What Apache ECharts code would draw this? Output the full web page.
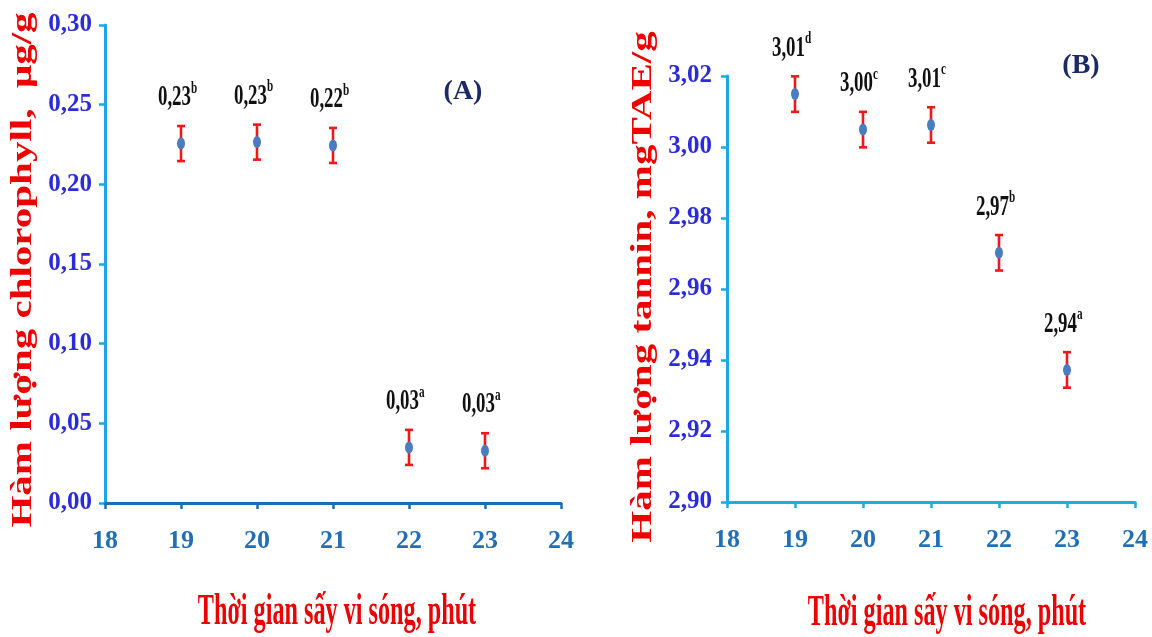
<!DOCTYPE html>
<html>
<head>
<meta charset="utf-8">
<script src="https://cdn.jsdelivr.net/npm/echarts@6/dist/echarts.min.js"></script>
<style>
  html, body { margin: 0; padding: 0; background: #ffffff; }
  #chart { width: 1152px; height: 637px; }
</style>
</head>
<body>
<div id="chart"></div>
<script>
// Drying time (minutes)
const minutes = [19, 20, 21, 22, 23];

// Panel A: chlorophyll content (µg/g), standard deviation, significance group
const chlorophyll = [0.2256, 0.2265, 0.2244, 0.0349, 0.0328];
const chlorophyllSd = [0.011, 0.011, 0.011, 0.011, 0.011];
const chlorophyllGroup = ['b', 'b', 'b', 'a', 'a'];

// Panel B: tannin content (mgTAE/g), standard deviation, significance group
const tannin = [3.0149, 3.0049, 3.0062, 2.9702, 2.9372];
const tanninSd = [0.005, 0.005, 0.005, 0.005, 0.005];
const tanninGroup = ['d', 'c', 'c', 'b', 'a'];

// Axis ranges
const xRange = { min: 18, max: 24, interval: 1 };
const chlRange = { min: 0, max: 0.30, interval: 0.05 };
const tanRange = { min: 2.90, max: 3.02, interval: 0.02 };

// Texts
const chlName = 'Hàm lượng chlorophyll,  μg/g';
const tanName = 'Hàm lượng tannin, mgTAE/g';
const timeName = 'Thời gian sấy vi sóng, phút';
const panelTitles = ['(A)', '(B)'];

const SERIF = '"Liberation Serif", "Times New Roman", serif';
const comma = v => v.toFixed(2).replace('.', ',');

function pointsOf(values, sd) {
  return minutes.map((m, i) => [m, values[i], sd[i]]);
}

// Error bar + value label drawn from each point's own value
function makeErrorRenderer(groups) {
  return function (params, api) {
    const x = api.value(0), y = api.value(1), sd = api.value(2);
    const top = api.coord([x, y + sd]);
    const bot = api.coord([x, y - sd]);
    const mid = api.coord([x, y]);
    const cap = 4;
    const red = '#f01818';
    const lineStyle = { stroke: red, lineWidth: 2.6 };
    return {
      type: 'group',
      children: [
        { type: 'line', shape: { x1: top[0], y1: top[1], x2: bot[0], y2: bot[1] }, style: lineStyle },
        { type: 'line', shape: { x1: top[0] - cap, y1: top[1], x2: top[0] + cap, y2: top[1] }, style: lineStyle },
        { type: 'line', shape: { x1: bot[0] - cap, y1: bot[1], x2: bot[0] + cap, y2: bot[1] }, style: lineStyle },
        {
          type: 'text', x: mid[0] + 10, y: mid[1] - 46, scaleX: 0.63,
          style: {
            text: comma(y), fill: '#111111', font: 'bold 30px ' + SERIF,
            align: 'right', verticalAlign: 'middle', textAlign: 'right', textVerticalAlign: 'middle'
          }
        },
        {
          type: 'text', x: mid[0] + 10, y: mid[1] - 55, scaleX: 0.7,
          style: {
            text: groups[params.dataIndex], fill: '#111111', font: 'bold 16px ' + SERIF,
            align: 'left', verticalAlign: 'middle', textAlign: 'left', textVerticalAlign: 'middle'
          }
        }
      ]
    };
  };
}

function xAxisOf(gridIndex, lineColor) {
  return {
    type: 'value', gridIndex, min: xRange.min, max: xRange.max, interval: xRange.interval,
    splitLine: { show: false },
    axisLine: { show: true, lineStyle: { color: lineColor, width: 3 } },
    axisTick: { show: true, inside: false, length: 6, lineStyle: { color: lineColor, width: 2.5 } },
    axisLabel: {
      color: '#236fb6', fontFamily: SERIF, fontWeight: 'bold', fontSize: 26, margin: 25
    }
  };
}

function yAxisOf(gridIndex, range, margin) {
  return {
    type: 'value', gridIndex, min: range.min, max: range.max, interval: range.interval,
    splitLine: { show: false },
    axisLine: { show: true, lineStyle: { color: '#1ca6e6', width: 3 } },
    axisTick: { show: true, inside: false, length: 6, lineStyle: { color: '#1ca6e6', width: 2.5 } },
    axisLabel: {
      color: '#2b2bdc', fontFamily: SERIF, fontWeight: 'bold', fontSize: 25, margin,
      formatter: v => comma(v)
    }
  };
}

function textEl(text, x, y, opts) {
  return Object.assign({
    type: 'text', x, y,
    style: {
      text, fill: opts.color, font: opts.font,
      align: 'center', verticalAlign: 'middle', textAlign: 'center', textVerticalAlign: 'middle'
    }
  }, opts.transform || {});
}

const option = {
  backgroundColor: '#ffffff',
  animation: false,
  grid: [
    { left: 105, top: 25, width: 456, height: 478 },
    { left: 727, top: 76, width: 408, height: 426 }
  ],
  xAxis: [xAxisOf(0, '#1d6db5'), xAxisOf(1, '#22a9e5')],
  yAxis: [yAxisOf(0, chlRange, 13), yAxisOf(1, tanRange, 15)],
  series: [
    {
      type: 'custom', xAxisIndex: 0, yAxisIndex: 0, z: 2,
      renderItem: makeErrorRenderer(chlorophyllGroup),
      data: pointsOf(chlorophyll, chlorophyllSd)
    },
    {
      type: 'scatter', xAxisIndex: 0, yAxisIndex: 0, z: 3,
      symbol: 'circle', symbolSize: [8, 12],
      itemStyle: { color: '#4a7cc0', opacity: 1 },
      data: pointsOf(chlorophyll, chlorophyllSd)
    },
    {
      type: 'custom', xAxisIndex: 1, yAxisIndex: 1, z: 2,
      renderItem: makeErrorRenderer(tanninGroup),
      data: pointsOf(tannin, tanninSd)
    },
    {
      type: 'scatter', xAxisIndex: 1, yAxisIndex: 1, z: 3,
      symbol: 'circle', symbolSize: [8, 12],
      itemStyle: { color: '#4a7cc0', opacity: 1 },
      data: pointsOf(tannin, tanninSd)
    }
  ],
  graphic: [
    textEl(chlName, 24, 270, { color: '#ee0000', font: 'bold 41px ' + SERIF,
      transform: { rotation: Math.PI / 2, scaleY: 0.7 } }),
    textEl(tanName, 644, 287, { color: '#ee0000', font: 'bold 41px ' + SERIF,
      transform: { rotation: Math.PI / 2, scaleY: 0.7 } }),
    textEl(timeName, 337, 613, { color: '#ee0000', font: 'bold 44px ' + SERIF,
      transform: { scaleX: 0.55 } }),
    textEl(timeName, 947, 614, { color: '#ee0000', font: 'bold 44px ' + SERIF,
      transform: { scaleX: 0.55 } }),
    textEl(panelTitles[0], 463, 92, { color: '#1b2a66', font: 'bold 28px ' + SERIF }),
    textEl(panelTitles[1], 1081, 66, { color: '#1b2a66', font: 'bold 28px ' + SERIF })
  ]
};

const chart = echarts.init(document.getElementById('chart'));
chart.setOption(option);
</script>
</body>
</html>
